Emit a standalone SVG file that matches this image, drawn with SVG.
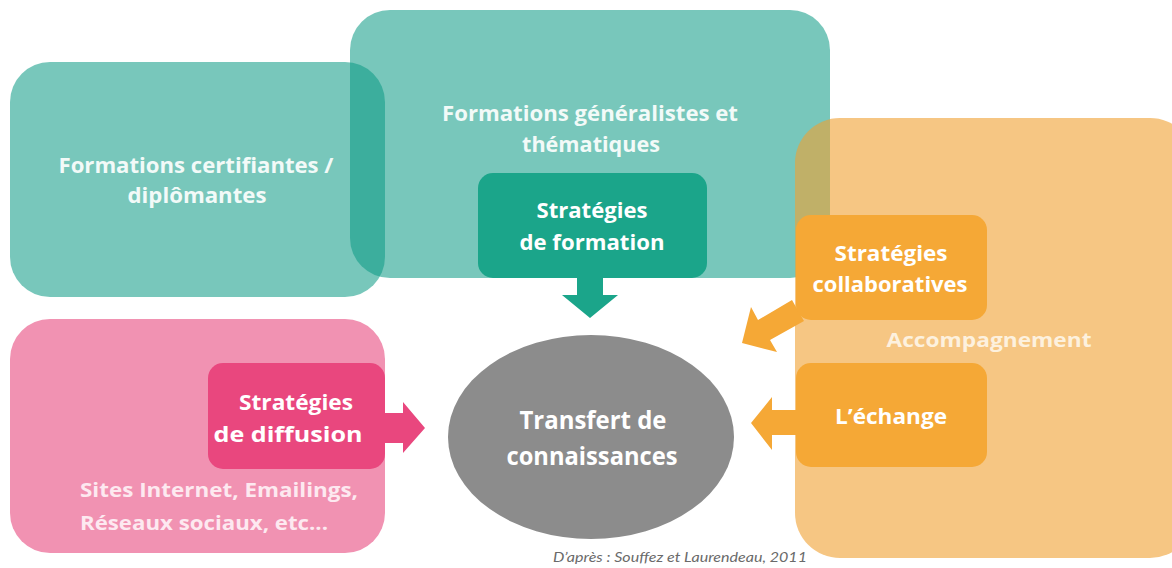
<svg xmlns="http://www.w3.org/2000/svg" width="1172" height="568" viewBox="0 0 1172 568">
  <style>
    .lbl { font-family: "Open Sans", Lato, "Liberation Sans", sans-serif; font-weight: 700; fill: #ffffff; text-anchor: middle; }
    .soft { fill: #f2faf8; }
    .pale-pink { fill: #fde9f0; text-anchor: start; }
    .pale-orange { fill: #fdf1de; }
    .teal-wide { fill: #0f9c86; fill-opacity: 0.56; }
    .orange-wide { fill: #f0a030; fill-opacity: 0.6; }
    .note { font-family: Lato, "Liberation Sans", sans-serif; font-style: italic; font-size: 14px; fill: #6a6a6a; }
  </style>

  <rect width="1172" height="568" fill="#ffffff"/>

  <!-- Formation group -->
  <g id="certifiantes">
    <rect class="teal-wide" x="10" y="62" width="375" height="235" rx="40"/>
    <text class="lbl soft" font-size="21" x="196" y="173" textLength="275" lengthAdjust="spacingAndGlyphs">Formations certifiantes /</text>
    <text class="lbl soft" font-size="21" x="197" y="203" textLength="139" lengthAdjust="spacingAndGlyphs">diplômantes</text>
  </g>

  <g id="generalistes">
    <rect class="teal-wide" x="350" y="10" width="480" height="268" rx="40"/>
    <text class="lbl soft" font-size="21" x="590" y="121" textLength="296" lengthAdjust="spacingAndGlyphs">Formations généralistes et</text>
    <text class="lbl soft" font-size="21" x="591" y="152" textLength="138" lengthAdjust="spacingAndGlyphs">thématiques</text>
  </g>

  <!-- Accompaniment group -->
  <g id="accompagnement">
    <rect class="orange-wide" x="795" y="118" width="400" height="440" rx="45"/>
    <text class="lbl pale-orange" font-size="20" x="989" y="347" textLength="205" lengthAdjust="spacingAndGlyphs">Accompagnement</text>
  </g>

  <!-- Diffusion group -->
  <g id="diffusion-canaux">
    <rect x="10" y="319" width="375" height="234" rx="40" fill="#f192b2"/>
    <text class="lbl pale-pink" font-size="20" x="80" y="497" textLength="278" lengthAdjust="spacingAndGlyphs">Sites Internet, Emailings,</text>
    <text class="lbl pale-pink" font-size="20" x="80" y="530" textLength="248" lengthAdjust="spacingAndGlyphs">Réseaux sociaux, etc...</text>
  </g>

  <!-- Arrows toward the centre -->
  <g id="connectors">
    <polygon points="577,276 603,276 603,295 618,295 590,318 562,295 577,295" fill="#1ba58a"/>
    <polygon points="383,413 403,413 403,402 425,428 403,453 403,443 383,443" fill="#e9477e"/>
    <polygon points="742,343 751,307 758,320 792,300 804,321 770,340 777,352" fill="#f5a836"/>
    <polygon points="751,423 772,397 772,410 798,410 798,435 772,435 772,450" fill="#f5a836"/>
  </g>

  <g id="strategie-formation">
    <rect x="478" y="173" width="229" height="105" rx="15" fill="#1ba58a"/>
    <text class="lbl" font-size="22" x="592" y="218" textLength="111" lengthAdjust="spacingAndGlyphs">Stratégies</text>
    <text class="lbl" font-size="22" x="592" y="250" textLength="145" lengthAdjust="spacingAndGlyphs">de formation</text>
  </g>

  <g id="strategie-diffusion">
    <rect x="208" y="363" width="177" height="106" rx="15" fill="#e9477e"/>
    <text class="lbl" font-size="21" x="296" y="410" textLength="114" lengthAdjust="spacingAndGlyphs">Stratégies</text>
    <text class="lbl" font-size="21" x="288" y="442" textLength="149" lengthAdjust="spacingAndGlyphs">de diffusion</text>
  </g>

  <g id="strategie-collaborative">
    <rect x="796" y="215" width="191" height="105" rx="15" fill="#f5a836"/>
    <text class="lbl" font-size="21" x="891" y="261" textLength="113" lengthAdjust="spacingAndGlyphs">Stratégies</text>
    <text class="lbl" font-size="21" x="890" y="292" textLength="155" lengthAdjust="spacingAndGlyphs">collaboratives</text>
  </g>

  <g id="echange">
    <rect x="796" y="363" width="191" height="104" rx="15" fill="#f5a836"/>
    <text class="lbl" font-size="21" x="891" y="424" textLength="112" lengthAdjust="spacingAndGlyphs">L’échange</text>
  </g>

  <g id="transfert">
    <ellipse cx="591" cy="437" rx="143" ry="102" fill="#8c8c8c"/>
    <text class="lbl" font-size="25" x="593" y="429" textLength="147" lengthAdjust="spacingAndGlyphs">Transfert de</text>
    <text class="lbl" font-size="25" x="592" y="465" textLength="171" lengthAdjust="spacingAndGlyphs">connaissances</text>
  </g>

  <text class="note" x="553" y="562" textLength="254" lengthAdjust="spacingAndGlyphs">D’après : Souffez et Laurendeau, 2011</text>
</svg>
